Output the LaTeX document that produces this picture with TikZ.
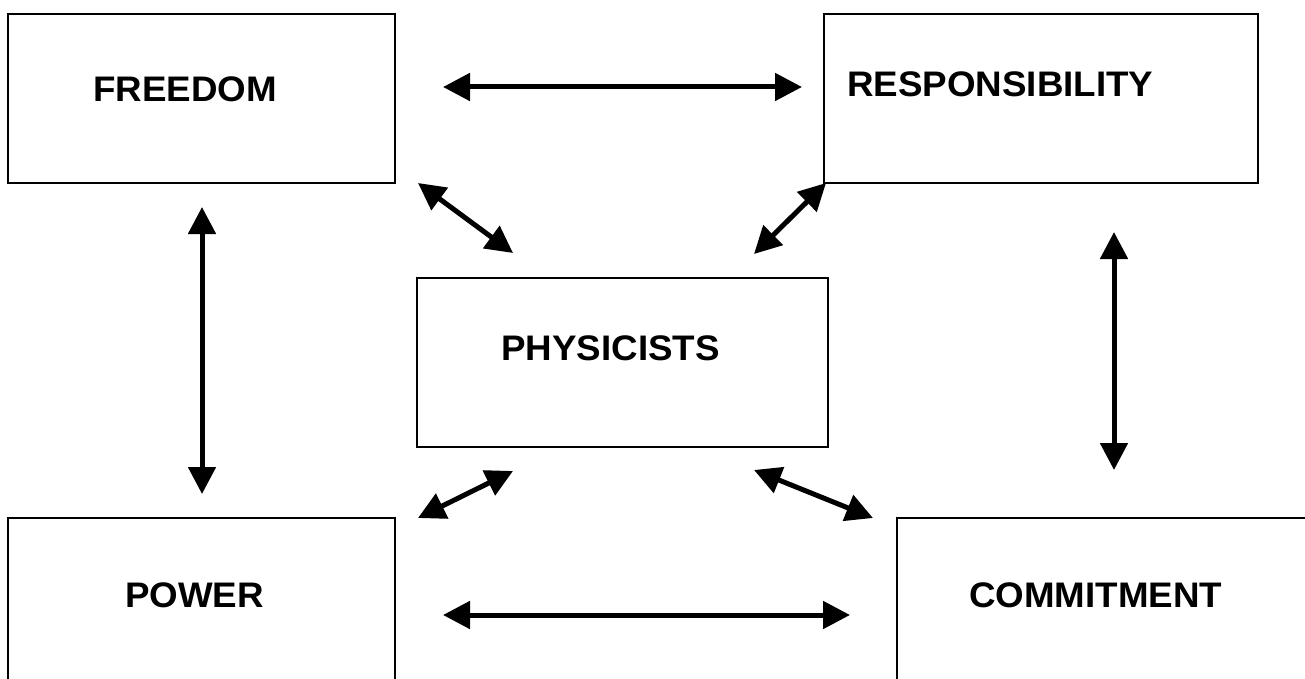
\documentclass[tikz,border=0pt]{standalone}
\usepackage{fontspec}
\setmainfont{Liberation Sans}
\usetikzlibrary{arrows.meta}
\tikzset{
  box/.style={draw=black, line width=2.2pt, fill=none, inner sep=0pt},
  lbl/.style={anchor=base west, inner sep=0pt, font=\fontsize{35.5}{42}\selectfont\bfseries},
  link/.style={line width=5pt, {Triangle[length=27pt,width=27pt]}-{Triangle[length=27pt,width=27pt]}}
}
\newcommand{\wlbl}[1]{\scalebox{1.035}[1]{#1}}
\begin{document}
\begin{tikzpicture}[x=1pt,y=-1pt]
\useasboundingbox (0,0) rectangle (1305,679);
\clip (0,0) rectangle (1305,679);
\fill[white] (0,0) rectangle (1305,679);
% boxes
\node[box, minimum width=387pt, minimum height=169pt] (freedom) at (201.5,98.5) {};
\node[box, minimum width=434pt, minimum height=169pt] (resp) at (1041,98.5) {};
\node[box, minimum width=411pt, minimum height=169pt] (phys) at (622.5,362.5) {};
\node[box, minimum width=387pt, minimum height=200pt] (power) at (201.5,618) {};
\node[box, minimum width=440pt, minimum height=200pt] (commit) at (1117,618) {};
% labels
\node[lbl] (tfreedom) at (93,102) {\wlbl{FREEDOM}};
\node[lbl] (tresp) at (847,97) {\wlbl{RESPONSIBILITY}};
\node[lbl] (tphys) at (501,360) {\wlbl{PHYSICISTS}};
\node[lbl] (tpower) at (125,607) {\wlbl{POWER}};
\node[lbl] (tcommit) at (969,607) {\wlbl{COMMITMENT}};
% connector end points
\coordinate (a1) at (443,87);  \coordinate (a2) at (802,87);
\coordinate (b1) at (418,183); \coordinate (b2) at (513,253);
\coordinate (c1) at (826,183); \coordinate (c2) at (754,254);
\coordinate (d1) at (202,207); \coordinate (d2) at (202,494);
\coordinate (e1) at (1114,232); \coordinate (e2) at (1114,470);
\coordinate (f1) at (513,471); \coordinate (f2) at (418,518);
\coordinate (g1) at (754,470); \coordinate (g2) at (873,518);
\coordinate (h1) at (443,615); \coordinate (h2) at (850,615);
% connectors
\draw[link] (a1) -- (a2);
\draw[link] (b1) -- (b2);
\draw[link] (c1) -- (c2);
\draw[link] (d1) -- (d2);
\draw[link] (e1) -- (e2);
\draw[link] (f1) -- (f2);
\draw[link] (g1) -- (g2);
\draw[link] (h1) -- (h2);
\end{tikzpicture}
\end{document}
